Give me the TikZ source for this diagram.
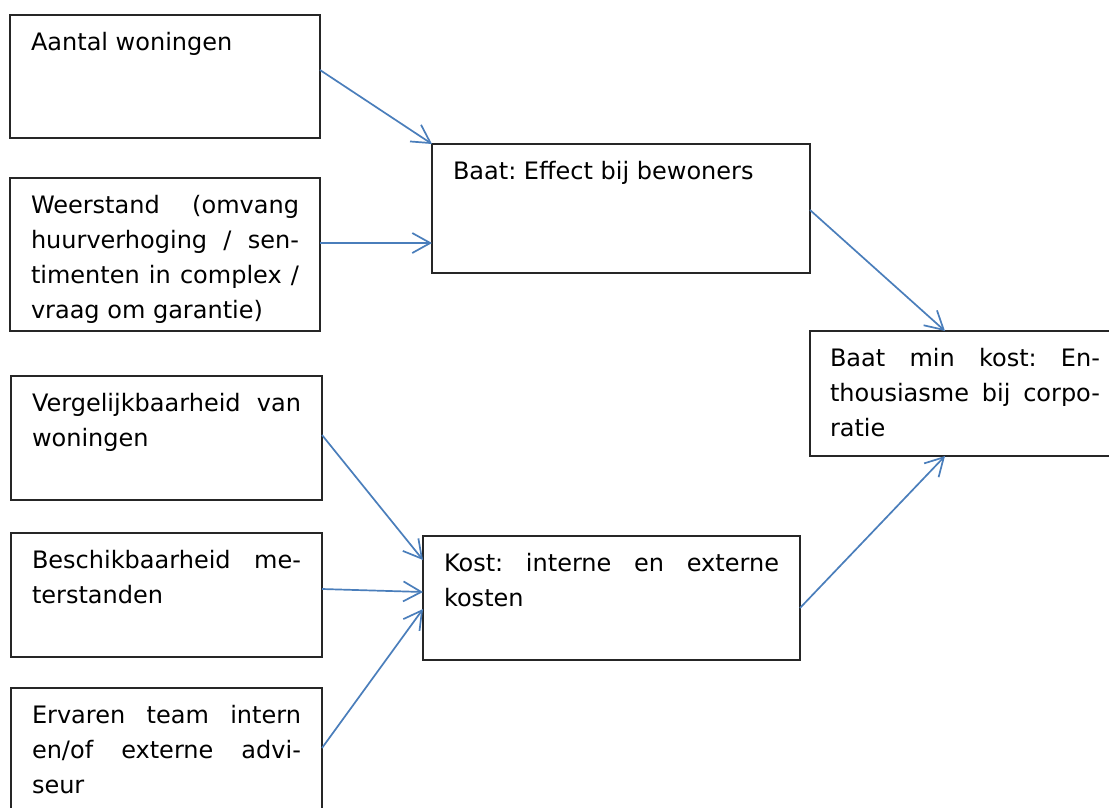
\documentclass[tikz,border=0pt]{standalone}
\usepackage{fontspec}
\setmainfont{DejaVu Sans}
\usetikzlibrary{arrows.meta,calc}
\definecolor{arrblue}{HTML}{4A7EBB}
\newcommand\btxt[3]{\parbox[c][#1][t]{#2}{\fontsize{24}{35}\selectfont\frenchspacing\tolerance=10000\hbadness=10000\hyphenpenalty=10000\rule{0pt}{35pt}#3}}
\begin{document}
\begin{tikzpicture}[x=1pt,y=-1pt,
  box/.style={draw=black!85, line width=1.3pt, inner xsep=21pt, inner ysep=0pt, anchor=north west, outer sep=0pt},
  arr/.style={draw=arrblue, line width=1.7pt, -{Straight Barb[length=18pt,width=20pt,line width=1.7pt]}}]
\clip (0,0) rectangle (1109,807);
\fill[white] (0,0) rectangle (1109,807);
\node[box] (b1) at (10,15) {\btxt{123pt}{268pt}{Aantal woningen}};
\node[box] (b2) at (10,178) {\btxt{153pt}{268pt}{Weerstand (omvang\linebreak huurverhoging / sen-\linebreak timenten in complex /\linebreak vraag om garantie)}};
\node[box] (b3) at (11,376) {\btxt{124pt}{269pt}{Vergelijkbaarheid van\linebreak woningen}};
\node[box] (b4) at (11,533) {\btxt{124pt}{269pt}{Beschikbaarheid me-\linebreak terstanden}};
\node[box] (b5) at (11,688) {\btxt{150pt}{269pt}{Ervaren team intern\linebreak en/of externe advi-\linebreak seur}};
\node[box] (baat) at (432,144) {\btxt{129pt}{336pt}{Baat: Effect bij bewoners}};
\node[box] (kost) at (423,536) {\btxt{124pt}{335pt}{Kost: interne en externe\linebreak kosten}};
\node[box, inner xsep=20pt] (b8) at (810,331) {\btxt{125pt}{270pt}{Baat min kost: En-\linebreak thousiasme bij corpo-\linebreak ratie}};
\draw[arr] ([yshift=6.5pt]b1.east) -- (baat.north west);
\draw[arr] ([yshift=11.5pt]b2.east) -- ([yshift=-34.5pt]baat.west);
\draw[arr] ([yshift=3pt]b3.east) -- ([yshift=38pt]kost.west);
\draw[arr] ([yshift=6pt]b4.east) -- ([yshift=6pt]kost.west);
\draw[arr] ([yshift=15pt]b5.east) -- ([yshift=-11pt]kost.west);
\draw[arr] ([yshift=-1.5pt]baat.east) -- ([xshift=135pt]b8.north west);
\draw[arr] ([yshift=-10pt]kost.east) -- ([xshift=135pt]b8.south west);
\end{tikzpicture}
\end{document}
